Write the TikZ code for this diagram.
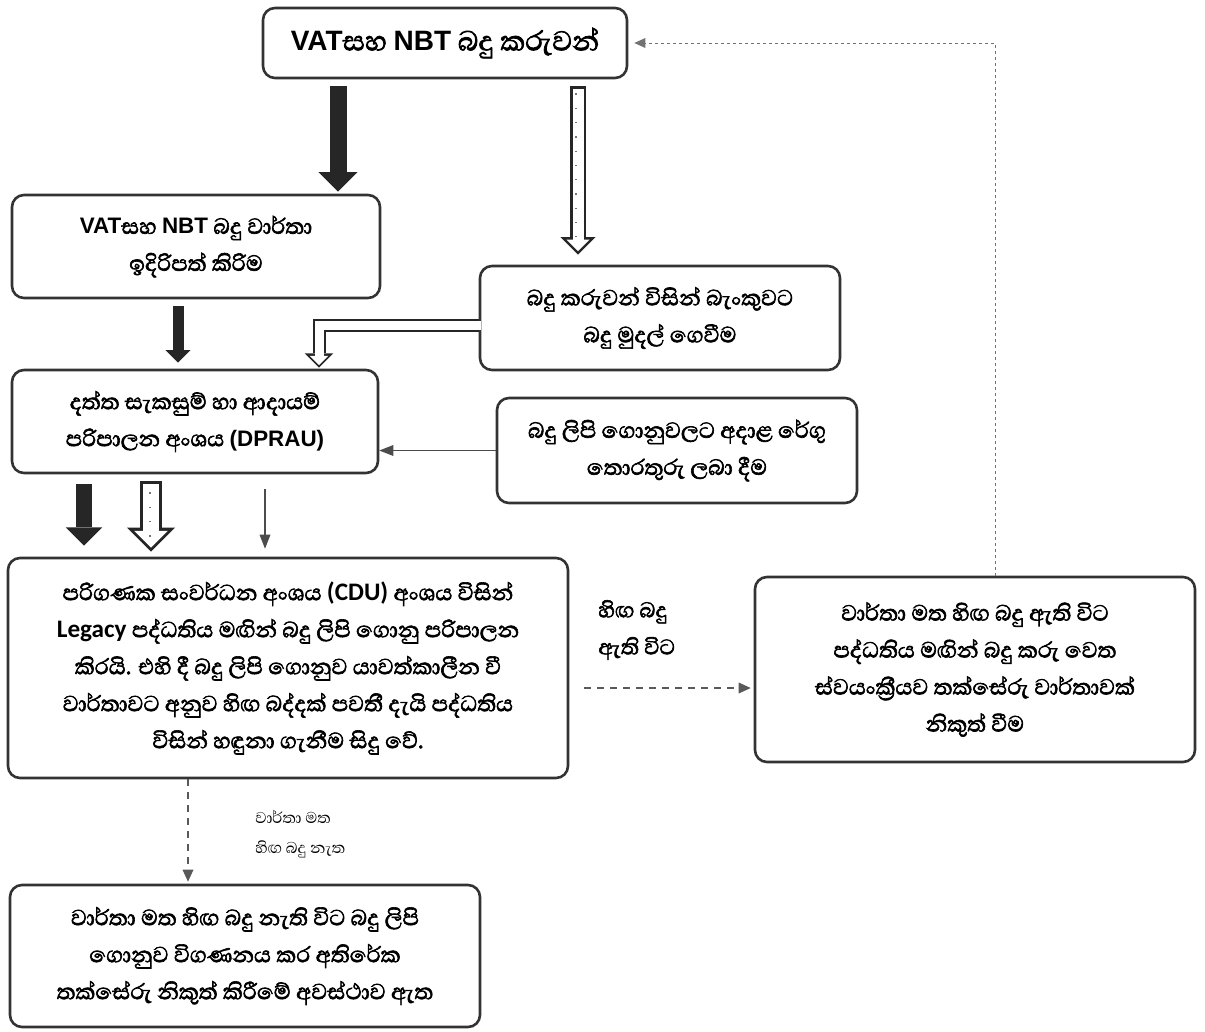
\documentclass[tikz,border=0pt]{standalone}
\usepackage{fontspec}
\setmainfont[Script=Sinhala, AutoFakeBold=2.2]{Abhaya Libre}
\newfontfamily\latfont[Scale=0.8]{Liberation Sans}
\newfontfamily\calfont[Scale=0.9]{Carlito}
\newcommand{\lat}[1]{{\latfont #1}}
\newcommand{\cfont}[1]{{\calfont #1}}
\usetikzlibrary{arrows.meta}

\tikzset{every picture/.style={line width=0.75pt}}
\tikzset{
  procbox/.style={draw=black!80, line width=2.6pt, rounded corners=12pt, align=center,
    inner sep=0pt, font=\fontsize{28}{37}\selectfont\bfseries},
  lbl/.style={anchor=west, align=left, inner sep=0pt},
  fatblack/.style={black!85, line width=#1, -{Triangle[width=2.3*#1, length=1.15*#1, line width=0pt 0 0]}},
  hollowout/.style={black!85, line width=#1, -{Triangle[width=2.2*#1, length=1.1*#1, line width=0pt 0 0]}},
  hollowin/.style={white, line width=#1, -{Triangle[width=2.1*#1, length=1.05*#1, line width=0pt 0 0]}},
  speckle/.style={black!55, line width=1.3pt, dash pattern=on 1.3pt off 13pt},
  thinarrow/.style={black!70, line width=1.3pt, -{Triangle[width=11pt, length=14pt, line width=0pt 0 0]}},
  dasharrow/.style={black!65, line width=1.3pt, dash pattern=on 7pt off 6pt, -{Triangle[width=11pt, length=12pt, line width=0pt 0 0]}},
  backline/.style={black!55, line width=1pt, dash pattern=on 3pt off 3pt, -{Triangle[width=10pt, length=11pt, line width=0pt 0 0]}}
}

\begin{document}
\begin{tikzpicture}[x=1pt,y=1pt,yscale=-1,xscale=1]
\useasboundingbox (0,0) rectangle (1205,1031);

%Boxes
\node[procbox, minimum width=364pt, minimum height=70pt, font=\fontsize{35}{40}\selectfont\bfseries] (top) at (445,43)
  {\lat{VAT}සහ \lat{NBT} බදු කරුවන්};
\node[procbox, minimum width=368pt, minimum height=103pt] (ret) at (196,246.5)
  {\lat{VAT}සහ \lat{NBT} බදු වාර්තා\\ඉදිරිපත් කිරිම};
\node[procbox, minimum width=360pt, minimum height=104pt] (bank) at (660,318)
  {බදු කරුවන් විසින් බැංකුවට\\බදු මුදල් ගෙවීම};
\node[procbox, minimum width=366pt, minimum height=103pt] (dpr) at (195,421.5)
  {දත්ත සැකසුම් හා ආදායම්\\පරිපාලන අංශය \lat{(DPRAU)}};
\node[procbox, minimum width=360pt, minimum height=105pt] (cust) at (677,450.5)
  {බදු ලිපි ගොනුවලට අදාළ රේගු\\තොරතුරු ලබා දීම};
\node[procbox, minimum width=560pt, minimum height=220pt] (cdu) at (288,668)
  {පරිගණක සංවර්ධන අංශය \cfont{(CDU)} අංශය විසින්\\\cfont{Legacy} පද්ධතිය මඟින් බදු ලිපි ගොනු පරිපාලන\\කිරයි. එහි දී බදු ලිපි ගොනුව යාවත්කාලීන වී\\වාර්තාවට අනුව හිඟ බද්දක් පවතී දැයි පද්ධතිය\\විසින් හඳුනා ගැනීම සිදු වේ.};
\node[procbox, minimum width=440pt, minimum height=185pt] (auto) at (975,669.5)
  {වාර්තා මත හිඟ බදු ඇති විට\\පද්ධතිය මඟින් බදු කරු වෙත\\ස්වයංක්^^^^200dරීයව තක්සේරු වාර්තාවක්\\නිකුත් වීම};
\node[procbox, minimum width=470pt, minimum height=142pt] (nt) at (245,956)
  {වාර්තා මත හිඟ බදු නැති විට බදු ලිපි\\ගොනුව විගණනය කර අතිරේක\\තක්සේරු නිකුත් කිරීමේ අවස්ථාව ඇත};

% Text Node
\node[lbl, font=\fontsize{27}{37}\selectfont\bfseries] (lblyes) at (598,630) {හිඟ බදු\\ඇති විට};
% Text Node
\node[lbl, font=\fontsize{20}{30}\selectfont] (lblno) at (255,834) {වාර්තා මත\\හිඟ බදු නැත};

%Arrows from the tax payers
\draw[fatblack=17pt, shorten <=7pt, shorten >=2pt] ([xshift=-107pt]top.south) -- ([xshift=-107pt]top.south |- ret.north);
\draw[hollowout=16pt, shorten <=7pt, shorten >=10pt] ([xshift=133pt]top.south) -- ([xshift=133pt]top.south |- bank.north);
\draw[hollowin=11pt, shorten <=9.5pt, shorten >=13.5pt] ([xshift=133pt]top.south) -- ([xshift=133pt]top.south |- bank.north);
\draw[speckle] ([xshift=131pt,yshift=14pt]top.south) -- ([xshift=131pt,yshift=-28pt]top.south |- bank.north);

%Into DPRAU
\draw[fatblack=11pt, shorten <=7pt, shorten >=6pt] ([xshift=-18pt]ret.south) -- ([xshift=-18pt]ret.south |- dpr.north);
\draw[hollowout=13pt, miter limit=4, shorten >=1pt] ([yshift=7pt]bank.west) -| ([xshift=124pt]dpr.north);
\draw[hollowin=9pt, miter limit=4, shorten >=3.5pt] ([yshift=7pt,xshift=2pt]bank.west) -| ([xshift=124pt]dpr.north);
\draw[thinarrow] (cust.west) -- (cust.west -| dpr.east);

%Into CDU
\draw[fatblack=16pt, shorten <=10pt, shorten >=11pt] ([xshift=-111pt]dpr.south) -- ([xshift=-111pt]dpr.south |- cdu.north);
\draw[hollowout=22pt, shorten <=7pt, shorten >=5pt] ([xshift=-44pt]dpr.south) -- ([xshift=-44pt]dpr.south |- cdu.north);
\draw[hollowin=16pt, shorten <=10pt, shorten >=9pt] ([xshift=-44pt]dpr.south) -- ([xshift=-44pt]dpr.south |- cdu.north);
\draw[speckle] ([xshift=-45pt,yshift=18pt]dpr.south) -- ([xshift=-45pt,yshift=-18pt]dpr.south |- cdu.north);
\draw[thinarrow, shorten <=15pt, shorten >=8pt] ([xshift=70pt]dpr.south) -- ([xshift=70pt]dpr.south |- cdu.north);

%Outcomes
\draw[dasharrow, shorten <=15pt, shorten >=3pt] ([yshift=20pt]cdu.east) -- ([yshift=20pt]cdu.east -| auto.west);
\draw[dasharrow, shorten >=2pt] ([xshift=-100pt]cdu.south) -- ([xshift=-100pt]cdu.south |- nt.north);
\draw[backline, shorten >=6pt] ([xshift=20pt]auto.north) |- (top.east);

\end{tikzpicture}
\end{document}
